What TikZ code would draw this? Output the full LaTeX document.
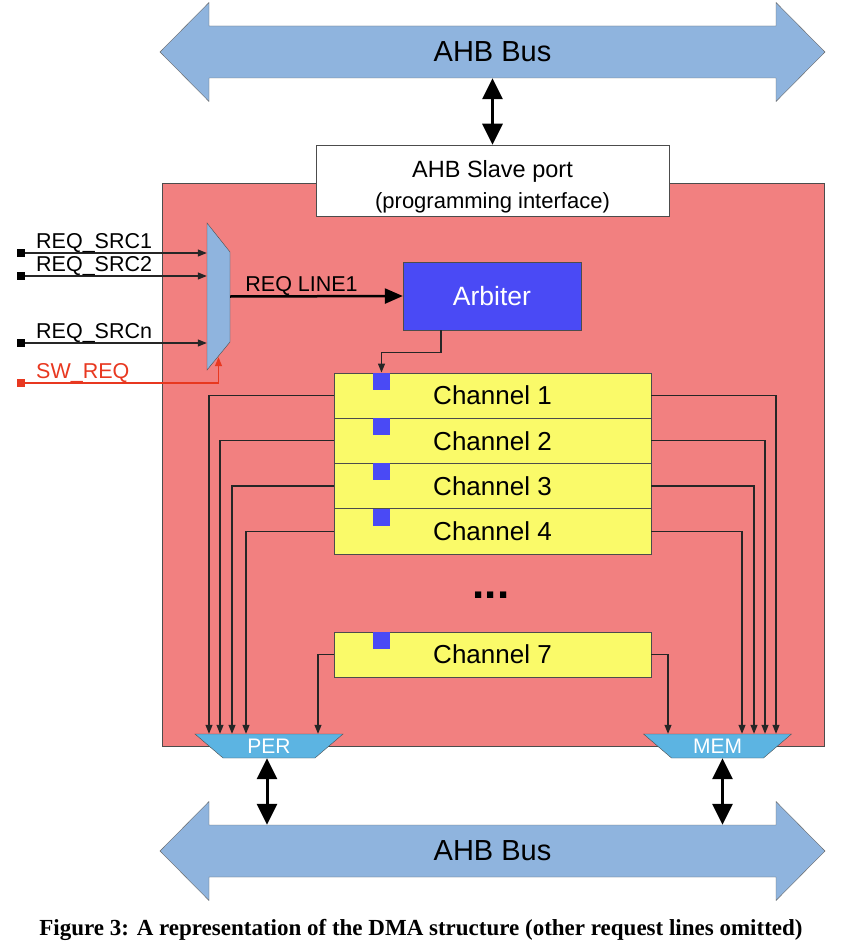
\documentclass[tikz,border=0pt]{standalone}
\usepackage{fontspec}
\setmainfont{Liberation Serif}
\setsansfont{Liberation Sans}
\usetikzlibrary{arrows.meta}
\definecolor{buscolor}{RGB}{143,180,222}
\definecolor{dmacolor}{RGB}{242,128,128}
\definecolor{portcolor}{RGB}{92,180,226}
\definecolor{arbcolor}{RGB}{74,74,245}
\definecolor{chcolor}{RGB}{250,250,105}
\definecolor{swcolor}{RGB}{232,56,32}
\tikzset{
  conn/.style={draw=black!85, line width=1.1pt, -{Triangle[length=9pt,width=7pt]}},
  thickconn/.style={draw=black, line width=2.5pt, -{Triangle[length=18pt,width=15pt]}},
  bigconn/.style={draw=black, line width=3pt, {Triangle[length=21pt,width=20pt]}-{Triangle[length=21pt,width=20pt]}},
  bustext/.style={minimum width=567pt, minimum height=52pt, inner sep=0pt, font=\sffamily\fontsize{29}{29}\selectfont},
  slavebox/.style={draw=black!70, fill=white, minimum width=353pt, minimum height=67pt, align=center, font=\sffamily\fontsize{22}{31}\selectfont},
  arbbox/.style={draw=black!70, fill=arbcolor, text=white, minimum width=178pt, minimum height=68pt, font=\sffamily\fontsize{26.5}{26.5}\selectfont},
  chbox/.style={draw=black!70, fill=chcolor, minimum width=317pt, minimum height=45.5pt, inner sep=0pt, font=\sffamily\fontsize{26}{26}\selectfont},
  flagsq/.style={fill=arbcolor, minimum size=17pt, inner sep=0pt},
  pinsq/.style={fill=black, minimum size=8pt, inner sep=0pt},
  reqlabel/.style={anchor=base west, inner sep=0pt, font=\sffamily\fontsize{21.5}{21.5}\selectfont},
  portbox/.style={minimum width=148pt, minimum height=24pt, inner sep=0pt, text=white, font=\sffamily\fontsize{21}{21}\selectfont},
  caption/.style={inner sep=0pt, font=\bfseries\fontsize{23}{23}\selectfont}
}
\begin{document}
\begin{tikzpicture}[x=1pt,y=-1pt]
\useasboundingbox (0,0) rectangle (850,944);
\draw[fill=dmacolor, draw=black!70] (162,183) rectangle (824,746);
\foreach \y/\nm in {52/topbus,851/botbus} {
  \draw[fill=buscolor, draw=black!60] (160,\y) -- (209,{\y-49.5}) -- (209,{\y-26}) -- (776,{\y-26}) -- (776,{\y-49.5}) -- (825,\y) -- (776,{\y+49.5}) -- (776,{\y+26}) -- (209,{\y+26}) -- (209,{\y+49.5}) -- cycle;
  \node[bustext] (\nm) at (492.5,\y) {AHB Bus};
}
\node[slavebox] (slave) at (492.5,180.5) {{\rule{0pt}{29pt}\fontsize{23.5}{31}\selectfont AHB Slave port}\\(programming interface)};
\draw[bigconn] (topbus.south) -- (slave.north);
\draw[fill=buscolor, draw=black!70] (207,223) -- (230,252) -- (230,342) -- (207,370) -- cycle;
\node[minimum width=23pt, minimum height=147pt, inner sep=0pt] (mux) at (218.5,296.5) {};
\foreach \nm/\y/\txt in {src1/253/REQ\_SRC1, src2/276/REQ\_SRC2, srcn/343/REQ\_SRCn} {
  \node[pinsq] (\nm) at (21,\y) {};
  \draw[conn] (\nm) -- (\nm -| mux.west);
  \node[reqlabel] at ([xshift=15pt,yshift=5pt]\nm.center) {\txt};
}
\node[pinsq, fill=swcolor] (swreq) at (21,383) {};
\draw[conn, draw=swcolor] (swreq) -| ([yshift=13pt]mux.south);
\node[reqlabel, text=swcolor] at ([xshift=15pt,yshift=5pt]swreq.center) {SW\_REQ};
\node[arbbox] (arbiter) at (492,296) {Arbiter};
\draw[thickconn] (mux.east) -- (arbiter.west);
\node[reqlabel] at ([xshift=15pt,yshift=5pt]mux.east) {REQ LINE1};
\foreach \n/\y in {1/395.5,2/440.75,3/486,4/531.25,7/654.5} {
  \node[chbox] (ch\n) at (492.5,\y) {Channel \n};
  \node[flagsq, anchor=north west] (flag\n) at ([xshift=39pt]ch\n.north west) {};
}
\draw[conn] ([xshift=-51pt]arbiter.south) -- ++(0,22) -| (flag1.north);
\node[anchor=base, inner sep=0pt, font=\sffamily\bfseries\fontsize{44}{44}\selectfont] (dots) at (491,598) {...};
\foreach \nm/\x/\txt in {per/269/PER, mem/717.5/MEM} {
  \draw[fill=portcolor, draw=black!70] ({\x-74},734) -- ({\x+74},734) -- ({\x+46},758) -- ({\x-46},758) -- cycle;
  \node[portbox] (\nm) at (\x,746) {\txt};
}
\foreach \n/\xl in {1/209,2/220,3/232,4/246,7/318} \draw[conn] (ch\n.west) -| (\xl,0 |- per.north);
\foreach \n/\xr in {1/776,2/765,3/754,4/742,7/668} \draw[conn] (ch\n.east) -| (\xr,0 |- mem.north);
\draw[bigconn] ([xshift=-2pt]per.south) -- ([xshift=-2pt]per.south |- botbus.north);
\draw[bigconn] ([xshift=5pt]mem.south) -- ([xshift=5pt]mem.south |- botbus.north);
\node[caption] (caption) at (421,930) {Figure 3: A representation of the DMA structure (other request lines omitted)};
\end{tikzpicture}
\end{document}
